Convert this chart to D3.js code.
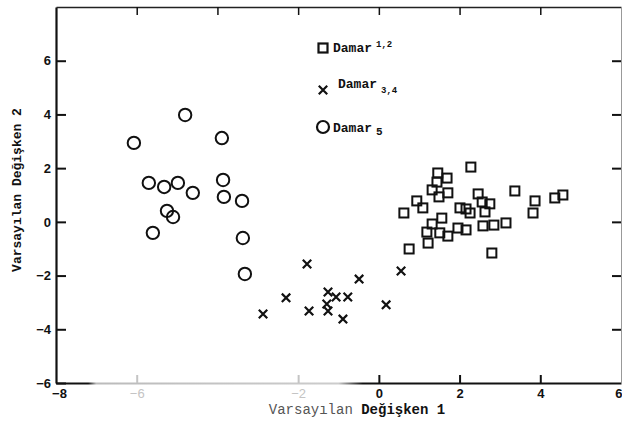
<!DOCTYPE html>
<html><head><meta charset="utf-8">
<script src="https://cdn.jsdelivr.net/npm/d3@7"></script>
<style>body{margin:0;background:#fff}svg{display:block}</style>
</head><body>
<script>
// Data
const damar12 = [[2.28,2.04],[1.46,1.82],[1.69,1.63],[1.44,1.48],[1.32,1.19],[1.71,1.08],[1.49,0.93],[0.94,0.78],[1.09,0.52],[0.62,0.33],[2.46,1.04],[2.56,0.74],[2.75,0.67],[2.63,0.37],[2.01,0.52],[2.16,0.48],[2.26,0.33],[1.56,0.14],[1.32,-0.08],[1.19,-0.38],[1.51,-0.41],[1.71,-0.53],[1.96,-0.23],[2.16,-0.30],[1.22,-0.79],[0.75,-1.01],[2.58,-0.15],[2.85,-0.12],[3.15,-0.04],[2.80,-1.16],[3.37,1.15],[3.87,0.78],[3.82,0.33],[4.36,0.89],[4.56,1.00]];
const damar34 = [[-1.78,-1.57],[-2.87,-3.43],[-2.30,-2.83],[-1.73,-3.32],[-1.26,-2.61],[-1.06,-2.80],[-1.29,-3.06],[-1.26,-3.32],[-0.77,-2.80],[-0.89,-3.62],[-0.49,-2.13],[0.18,-3.09],[0.55,-1.83]];
const damar5 = [[-6.07,2.94],[-4.80,3.98],[-3.89,3.12],[-5.70,1.45],[-5.32,1.30],[-4.98,1.45],[-4.61,1.08],[-3.86,1.56],[-3.84,0.93],[-3.39,0.78],[-5.25,0.41],[-5.10,0.18],[-5.60,-0.41],[-3.37,-0.60],[-3.32,-1.94]];
const xTicks = [-8,-6,-2,0,2,4,6];
const yTicks = [-6,-4,-2,0,2,4,6];
const fadedXTicks = [-6,-2];
const legendLabels = [["Damar","1,2"],["Damar","3,4"],["Damar","5"]];
const xTitle = ["Varsayılan ","Değişken 1"];
const yTitle = "Varsayılan Değişken 2";

const W = 622, H = 423;
const svg = d3.select("body").append("svg").attr("width",W).attr("height",H);
const x = d3.scaleLinear().domain([-8,6]).range([56,621]);
const y = d3.scaleLinear().domain([-6,8]).range([383,7]);

const tickFont = "'Liberation Sans', Arial, sans-serif";
const monoFont = "'Liberation Mono', 'Courier New', monospace";

// Axes
const gB = svg.append("g").attr("transform",`translate(0,${y(-6)})`)
  .call(d3.axisBottom(x).tickValues(xTicks).tickSizeInner(-8).tickSizeOuter(0).tickPadding(6));
const gL = svg.append("g").attr("transform",`translate(${x(-8)},0)`)
  .call(d3.axisLeft(y).tickValues(yTicks).tickSizeInner(-10).tickSizeOuter(0).tickPadding(5));
const gT = svg.append("g").attr("transform",`translate(0,${y(8)})`)
  .call(d3.axisTop(x).tickValues([-6,-4,-2,0,2,4]).tickSizeInner(-8).tickSizeOuter(0).tickFormat(""));
const gR = svg.append("g").attr("transform",`translate(${x(6)},0)`)
  .call(d3.axisRight(y).tickValues([-4,-2,0,2,4,6]).tickSizeInner(-9).tickSizeOuter(0).tickFormat(""));

[gB,gL,gT,gR].forEach(g=>{
  g.selectAll("text").attr("font-family",tickFont).attr("font-size",13).attr("font-weight","bold").attr("fill","#111");
  g.selectAll(".tick line").attr("stroke","#111").attr("stroke-width",2);
});
gT.selectAll(".tick line").attr("stroke-width",1.5);
gL.select(".domain").attr("stroke","#111").attr("stroke-width",2.2);
gT.select(".domain").attr("stroke","#222").attr("stroke-width",1.6);
gR.select(".domain").attr("stroke","#999").attr("stroke-width",1);
// faded bottom axis region (scan)
const grad = svg.append("defs").append("linearGradient").attr("id","fade")
  .attr("gradientUnits","userSpaceOnUse").attr("x1",x(-8)).attr("x2",x(6)).attr("y1",0).attr("y2",0);
[[x(-7.2),"#111"],[x(-7.0),"#bbb"],[x(-1.0),"#ccc"],[x(-0.4),"#111"]].forEach(([px,c])=>{
  grad.append("stop").attr("offset",((px-x(-8))/(x(6)-x(-8))).toFixed(3)).attr("stop-color",c);
});
gB.select(".domain").attr("stroke","url(#fade)").attr("stroke-width",2.2);
gB.selectAll(".tick").filter(d=>fadedXTicks.includes(d)).selectAll("line").attr("stroke","#c4c4c4");
gB.selectAll(".tick").filter(d=>fadedXTicks.includes(d)).select("text").attr("fill","#c4c4c4").attr("font-weight","normal");
gB.selectAll(".tick").filter(d=>d===-8||d===6).select("line").remove();
gB.selectAll(".tick").filter(d=>d===6).select("text").attr("text-anchor","end").attr("dx",1);
gB.selectAll(".tick").filter(d=>d===-8).select("text").attr("dx",3);

// Marks
const ink = "#111";
svg.append("g").selectAll("rect").data(damar12).join("rect")
  .attr("x",d=>x(d[0])-4.5).attr("y",d=>y(d[1])-4.5).attr("width",9).attr("height",9)
  .attr("fill","none").attr("stroke",ink).attr("stroke-width",2);
const cross = d3.symbol().type(d3.symbolX).size(48);
svg.append("g").selectAll("path").data(damar34).join("path")
  .attr("transform",d=>`translate(${x(d[0])},${y(d[1])})`).attr("d",cross)
  .attr("fill","none").attr("stroke",ink).attr("stroke-width",2.2);
svg.append("g").selectAll("circle").data(damar5).join("circle")
  .attr("cx",d=>x(d[0])).attr("cy",d=>y(d[1])).attr("r",6.2)
  .attr("fill","none").attr("stroke",ink).attr("stroke-width",2);

// Legend
const lg = svg.append("g");
lg.append("rect").attr("x",323-4.5).attr("y",48-4.5).attr("width",9).attr("height",9)
  .attr("fill","none").attr("stroke",ink).attr("stroke-width",2.2);
lg.append("path").attr("transform","translate(323,90)").attr("d",cross).attr("fill","none").attr("stroke",ink).attr("stroke-width",2.2);
lg.append("circle").attr("cx",323).attr("cy",127).attr("r",6).attr("fill","none").attr("stroke",ink).attr("stroke-width",2.2);
const legPos = [[333,52,-5],[338,88,5],[333,132,3]];
legendLabels.forEach((lab,i)=>{
  const t = lg.append("text").attr("x",legPos[i][0]).attr("y",legPos[i][1])
    .attr("font-family",monoFont).attr("font-weight","bold").attr("font-size",13).attr("fill",ink);
  t.append("tspan").text(lab[0]);
  t.append("tspan").attr("dx",4).attr("dy",legPos[i][2]).attr("font-size",i===2?11:9).text(lab[1]);
});

// Axis titles
const xt = svg.append("text").attr("x",357).attr("y",414).attr("text-anchor","middle")
  .attr("font-family",monoFont).attr("font-size",14).attr("fill",ink);
xt.append("tspan").attr("fill","#555").text(xTitle[0]);
xt.append("tspan").attr("font-weight","bold").text(xTitle[1]);
svg.append("text").attr("transform","translate(21,190) rotate(-90)").attr("text-anchor","middle")
  .attr("font-family",monoFont).attr("font-weight","bold").attr("font-size",13).attr("fill",ink).text(yTitle);
</script>
</body></html>
